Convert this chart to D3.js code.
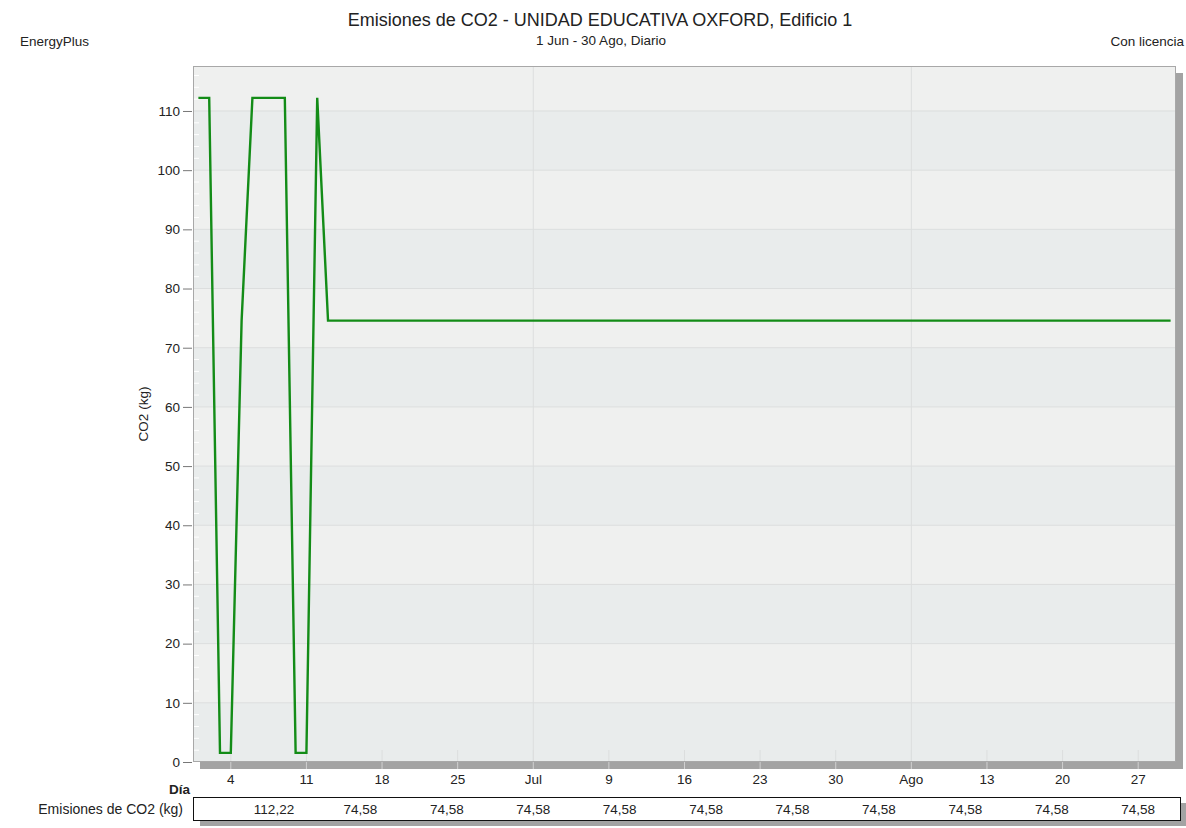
<!DOCTYPE html>
<html>
<head>
<meta charset="utf-8">
<script src="https://cdn.jsdelivr.net/npm/d3@7"></script>
<style>
  body { margin: 0; background: #fff; }
  text { font-family: "Liberation Sans", Arial, sans-serif; fill: #222; }
</style>
</head>
<body>
<div class="chart"></div>
<script>
// Emisiones diarias de CO2 (kg), 1 Jun - 30 Ago (91 dias)
const dailyValues = [
  112.22, 112.22, 1.55, 1.55, 74.58, 112.22, 112.22, 112.22, 112.22, 1.55,
  1.55, 112.22, 74.58, 74.58, 74.58, 74.58, 74.58, 74.58, 74.58, 74.58,
  74.58, 74.58, 74.58, 74.58, 74.58, 74.58, 74.58, 74.58, 74.58, 74.58,
  74.58, 74.58, 74.58, 74.58, 74.58, 74.58, 74.58, 74.58, 74.58, 74.58,
  74.58, 74.58, 74.58, 74.58, 74.58, 74.58, 74.58, 74.58, 74.58, 74.58,
  74.58, 74.58, 74.58, 74.58, 74.58, 74.58, 74.58, 74.58, 74.58, 74.58,
  74.58, 74.58, 74.58, 74.58, 74.58, 74.58, 74.58, 74.58, 74.58, 74.58,
  74.58, 74.58, 74.58, 74.58, 74.58, 74.58, 74.58, 74.58, 74.58, 74.58,
  74.58, 74.58, 74.58, 74.58, 74.58, 74.58, 74.58, 74.58, 74.58, 74.58,
  74.58
]

// Marcas del eje x (dia del periodo) y sus etiquetas
const tickDays = [4, 11, 18, 25, 32, 39, 46, 53, 60, 67, 74, 81, 88]
const tickLabels = ["4", "11", "18", "25", "Jul", "9", "16", "23", "30", "Ago", "13", "20", "27"]
// Lineas verticales completas (cambio de mes)
const monthDays = [32, 67]

const yTicks = [0, 10, 20, 30, 40, 50, 60, 70, 80, 90, 100, 110]

// Fila de la tabla inferior
const tableDays = [8, 16, 24, 32, 40, 48, 56, 64, 72, 80, 88]
const tableValues = ["112,22", "74,58", "74,58", "74,58", "74,58", "74,58", "74,58", "74,58", "74,58", "74,58", "74,58"]

const W = 1186, H = 828
const plot = {left: 193, top: 66, right: 1176, bottom: 762}
const fs = "13.5px"

const svg = d3.select(".chart").append("svg")
    .attr("width", W)
    .attr("height", H)

const x = d3.scaleLinear()
    .domain([0.5, 91.5])
    .range([plot.left, plot.right])

const y = d3.scaleLinear()
    .domain([0, 117.6])
    .range([plot.bottom, plot.top])

// titulos
svg.append("text").attr("x", 600).attr("y", 26)
    .attr("text-anchor", "middle").style("font-size", "18px")
    .text("Emisiones de CO2 - UNIDAD EDUCATIVA OXFORD, Edificio 1")
svg.append("text").attr("x", 601).attr("y", 45)
    .attr("text-anchor", "middle").style("font-size", fs)
    .text("1 Jun - 30 Ago, Diario")
svg.append("text").attr("x", 20).attr("y", 46)
    .style("font-size", fs).text("EnergyPlus")
svg.append("text").attr("x", 1184).attr("y", 46)
    .attr("text-anchor", "end").style("font-size", fs).text("Con licencia")

// sombra del area de grafico
svg.append("rect")
    .attr("x", plot.left + 7).attr("y", plot.top + 7)
    .attr("width", plot.right - plot.left).attr("height", plot.bottom - plot.top)
    .attr("fill", "#a3a3a3")

svg.append("rect")
    .attr("x", plot.left).attr("y", plot.top)
    .attr("width", plot.right - plot.left).attr("height", plot.bottom - plot.top)
    .attr("fill", "#eff0ef")

// bandas alternas cada 10 kg
const bands = yTicks.filter((d, i) => i % 2 === 0)
svg.selectAll(".band")
    .data(bands)
    .enter().append("rect")
    .attr("class", "band")
    .attr("x", plot.left)
    .attr("width", plot.right - plot.left)
    .attr("y", d => y(d + 10))
    .attr("height", d => y(d) - y(d + 10))
    .attr("fill", "#e9ecec")

// lineas horizontales
svg.selectAll(".hgrid")
    .data(yTicks.slice(1))
    .enter().append("line")
    .attr("x1", plot.left).attr("x2", plot.right)
    .attr("y1", d => y(d)).attr("y2", d => y(d))
    .attr("stroke", "#dcdede")

// lineas verticales de mes
svg.selectAll(".vgrid")
    .data(monthDays)
    .enter().append("line")
    .attr("x1", d => x(d)).attr("x2", d => x(d))
    .attr("y1", plot.top).attr("y2", plot.bottom)
    .attr("stroke", "#dcdede")

// marcas cortas abajo
svg.selectAll(".vstub")
    .data(tickDays)
    .enter().append("line")
    .attr("x1", d => x(d)).attr("x2", d => x(d))
    .attr("y1", plot.bottom - 12).attr("y2", plot.bottom)
    .attr("stroke", "#dcdede")

// marcas menores blancas en el borde izquierdo
svg.selectAll(".minor")
    .data(d3.range(0, 118, 2).filter(d => d % 10 !== 0))
    .enter().append("line")
    .attr("x1", plot.left + 1).attr("x2", plot.left + 6)
    .attr("y1", d => y(d)).attr("y2", d => y(d))
    .attr("stroke", "#ffffff")

// marcas del eje x dentro de la banda gris
svg.selectAll(".xtick")
    .data(tickDays)
    .enter().append("line")
    .attr("x1", d => x(d)).attr("x2", d => x(d))
    .attr("y1", plot.bottom).attr("y2", plot.bottom + 7)
    .attr("stroke", "#d0d0d0")

// linea de datos
const line = d3.line()
    .x((d, i) => x(i + 1))
    .y(d => y(d))

svg.append("path")
    .datum(dailyValues)
    .attr("d", line)
    .attr("fill", "none")
    .attr("stroke", "#138c17")
    .attr("stroke-width", 2.4)

// borde del area
svg.append("rect")
    .attr("x", plot.left + 0.5).attr("y", plot.top + 0.5)
    .attr("width", plot.right - plot.left - 1).attr("height", plot.bottom - plot.top - 1)
    .attr("fill", "none")
    .attr("stroke", "#a8a8a8")

// eje y
const yAxis = d3.axisLeft(y)
    .tickValues(yTicks)
    .tickSize(9)
    .tickPadding(3)

svg.append("g")
    .attr("transform", "translate(" + (plot.left - 1) + ",0)")
    .call(yAxis)
    .call(g => g.select(".domain").remove())
    .call(g => g.selectAll("line").attr("stroke", "#777"))
    .call(g => g.selectAll("text").style("font-size", fs).attr("fill", "#222")
        .style("font-family", "'Liberation Sans', Arial, sans-serif"))

svg.append("text")
    .attr("transform", "translate(148," + ((plot.top + plot.bottom) / 2) + ") rotate(-90)")
    .attr("text-anchor", "middle")
    .style("font-size", fs)
    .text("CO2 (kg)")

// etiquetas del eje x
svg.selectAll(".xlabel")
    .data(tickDays)
    .enter().append("text")
    .attr("x", d => x(d))
    .attr("y", 784)
    .attr("text-anchor", "middle")
    .style("font-size", fs)
    .text((d, i) => tickLabels[i])

svg.append("text")
    .attr("x", 190).attr("y", 794)
    .attr("text-anchor", "end")
    .style("font-size", fs).style("font-weight", "bold")
    .text("Día")

// tabla inferior
const table = {left: 193, top: 797, right: 1180, bottom: 820}
svg.append("rect")
    .attr("x", table.left + 7).attr("y", table.top + 6)
    .attr("width", table.right - table.left).attr("height", table.bottom - table.top)
    .attr("fill", "#a3a3a3")
svg.append("rect")
    .attr("x", table.left + 0.5).attr("y", table.top + 0.5)
    .attr("width", table.right - table.left).attr("height", table.bottom - table.top)
    .attr("fill", "#fff")
    .attr("stroke", "#111")

svg.append("text")
    .attr("x", 183).attr("y", 814)
    .attr("text-anchor", "end")
    .style("font-size", "14px")
    .text("Emisiones de CO2 (kg)")

svg.selectAll(".tval")
    .data(tableValues)
    .enter().append("text")
    .attr("x", (d, i) => x(tableDays[i]))
    .attr("y", 814)
    .attr("text-anchor", "middle")
    .style("font-size", fs)
    .text(d => d)
</script>
</body>
</html>
